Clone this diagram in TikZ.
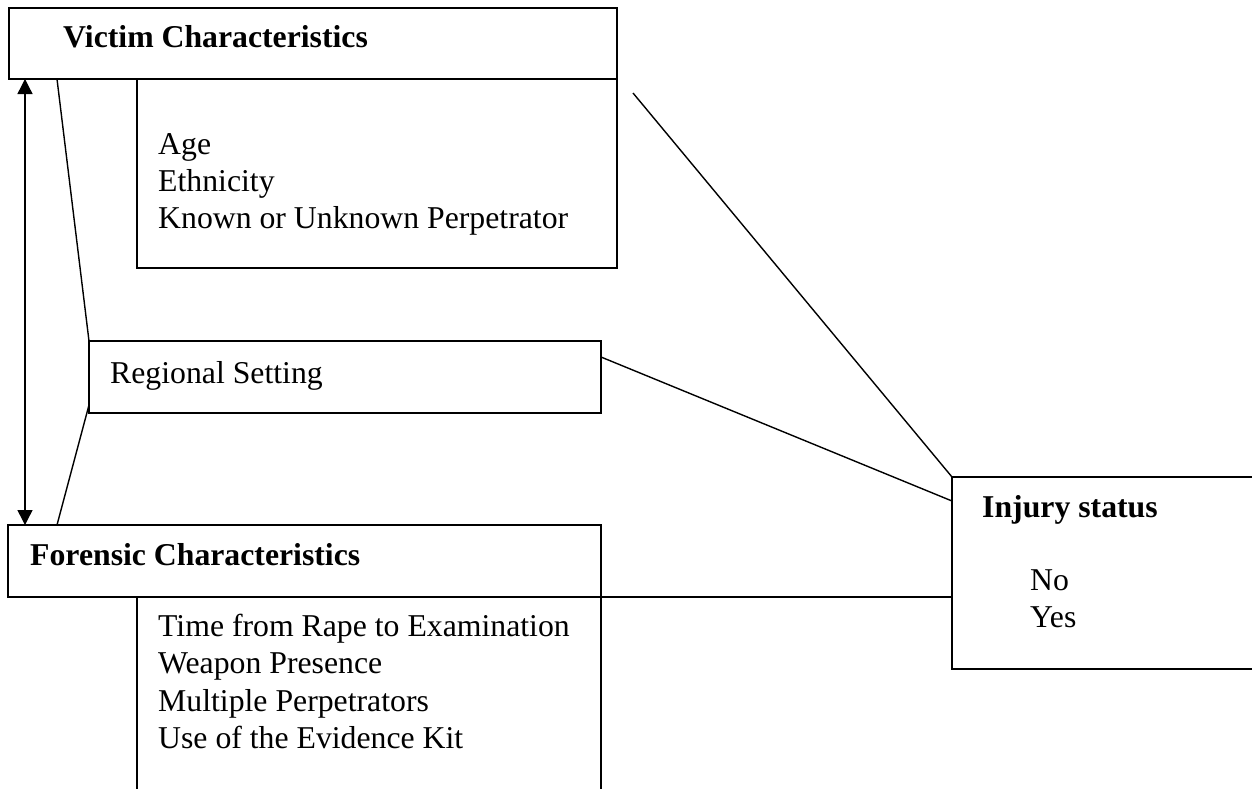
\documentclass[tikz,border=0pt]{standalone}
\usepackage{fontspec}
\setmainfont{Liberation Serif}
\usetikzlibrary{arrows.meta}
\begin{document}
\begin{tikzpicture}[x=1pt,y=-1pt,
  box/.style={draw,line width=1.8pt,inner sep=0pt,outer sep=0pt,anchor=north west},
  conn/.style={line width=1.4pt},
  lab/.style={anchor=base west,inner sep=0pt,font=\fontsize{31.75}{37}\selectfont},
  blab/.style={lab,font=\fontsize{31.75}{37}\selectfont\bfseries}]
\useasboundingbox (0,0) rectangle (1252,788);
% boxes
\node[box,minimum width=608pt,minimum height=71pt] (victim) at (9,8) {};
\node[box,minimum width=512pt,minimum height=72pt] (regional) at (89,341) {};
\node[box,minimum width=593pt,minimum height=72pt] (forensic) at (8,525) {};
\node[box,minimum width=330pt,minimum height=192pt] (injury) at (952,477) {};
% sub boxes
\draw[line width=1.8pt] (137,79) |- (617,268) -- (617,79);
\draw[line width=1.8pt] (137,597) -- (137,800);
\draw[line width=1.8pt] (601,597) -- (601,800);
% texts
\node[blab] (tv) at (63,47) {Victim Characteristics};
\node[lab] (t1) at (158,154) {Age};
\node[lab] (t2) at (158,191) {Ethnicity};
\node[lab] (t3) at (158,228) {Known or Unknown Perpetrator};
\node[lab] (tr) at (110,383) {Regional Setting};
\node[blab] (tf) at (30,565) {Forensic Characteristics};
\node[lab] (f1) at (158,636) {Time from Rape to Examination};
\node[lab] (f2) at (158,673) {Weapon Presence};
\node[lab] (f3) at (158,711) {Multiple Perpetrators};
\node[lab] (f4) at (158,748) {Use of the Evidence Kit};
\node[blab] (ti) at (982,517) {Injury status};
\node[lab] (i1) at (1030,590) {No};
\node[lab] (i2) at (1030,627) {Yes};
% connector coordinates
\coordinate (vb1) at (57,79);
\coordinate (va) at (25,79);
\coordinate (fa) at (25,525);
\coordinate (fb1) at (57,525);
\coordinate (rl2) at (89,405);
\coordinate (vfree) at (633,93);
\coordinate (rr) at (601,357);
\coordinate (il) at (952,501);
\coordinate (fr) at (601,597);
\coordinate (il2) at (952,597);
% connectors
\draw[conn] (vb1) -- (regional.north west);
\draw[conn] (rl2) -- (fb1);
\draw[conn] (vfree) -- (injury.north west);
\draw[conn] (rr) -- (il);
\draw[conn] (fr) -- (il2);
\draw[conn,{Triangle[width=15pt,length=15pt]}-{Triangle[width=15pt,length=15pt]}] (va) -- (fa);
\end{tikzpicture}
\end{document}
